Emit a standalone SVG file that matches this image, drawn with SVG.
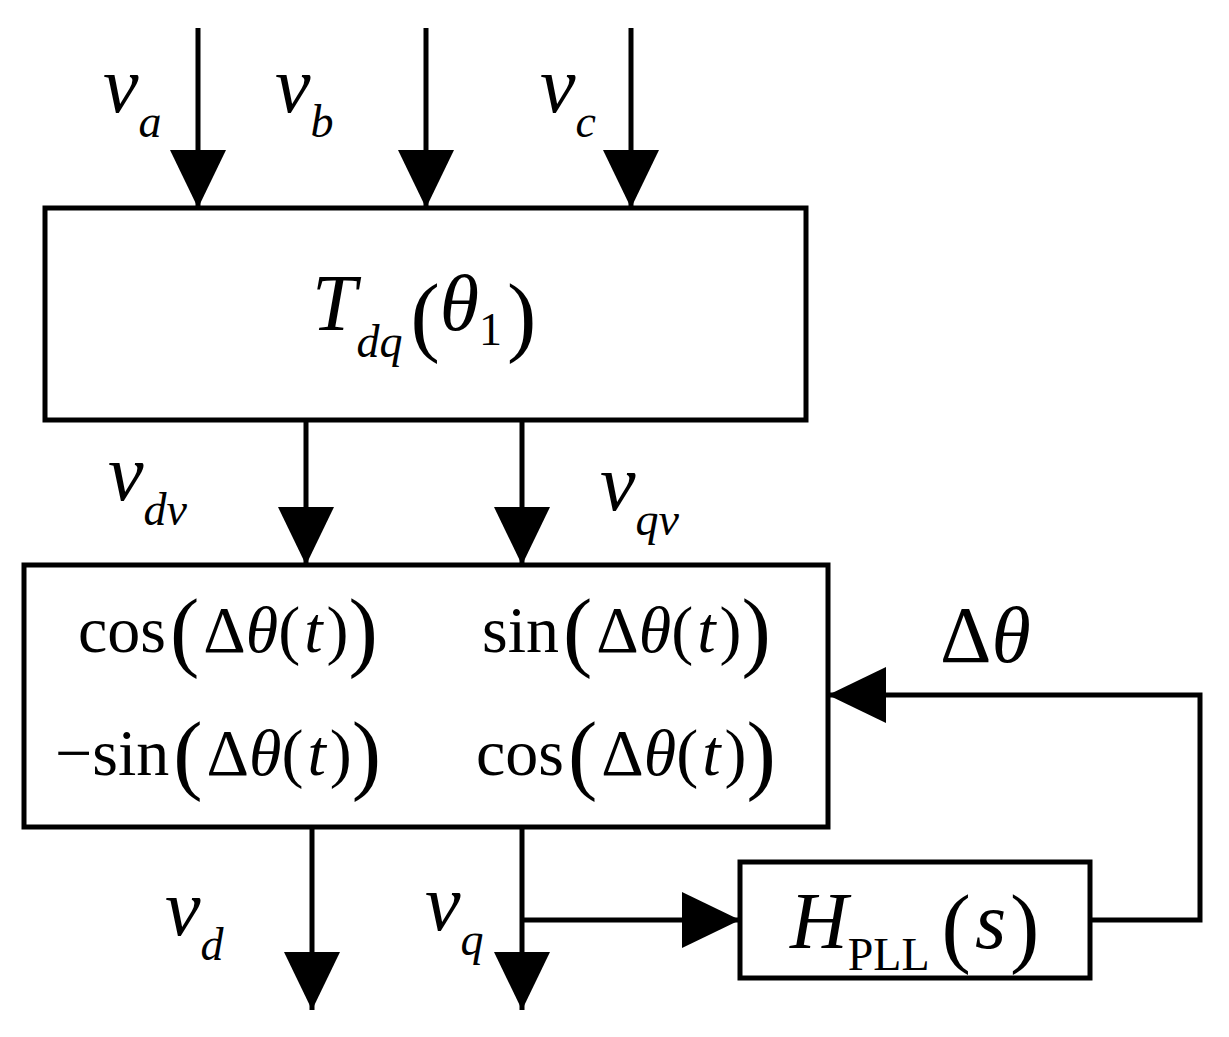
<svg xmlns="http://www.w3.org/2000/svg" width="1229" height="1037" viewBox="0 0 1229 1037">
<style>
.l{stroke:#000;stroke-width:5;fill:none}
.b{stroke:#000;stroke-width:5;fill:#fff}
text{font-family:"Liberation Serif",serif;fill:#000}
.i{font-style:italic}
.v{font-size:80px}
.s{font-size:46px}
.m{font-size:66px}
.p{font-size:88px}
</style>
<defs><marker id="a" markerUnits="userSpaceOnUse" markerWidth="60" markerHeight="60" refX="58" refY="28" orient="auto"><path d="M0,0 L58,28 L0,56 Z" fill="#000"/></marker></defs>
<rect width="1229" height="1037" fill="#fff"/>
<g id="connectors">
<line class="l" x1="198" y1="28" x2="198" y2="208" marker-end="url(#a)"/>
<line class="l" x1="426" y1="28" x2="426" y2="208" marker-end="url(#a)"/>
<line class="l" x1="631" y1="28" x2="631" y2="208" marker-end="url(#a)"/>
<line class="l" x1="306" y1="420" x2="306" y2="565" marker-end="url(#a)"/>
<line class="l" x1="522" y1="420" x2="522" y2="565" marker-end="url(#a)"/>
<line class="l" x1="312" y1="827" x2="312" y2="1010" marker-end="url(#a)"/>
<line class="l" x1="522" y1="827" x2="522" y2="1010" marker-end="url(#a)"/>
<line class="l" x1="522" y1="920" x2="740" y2="920" marker-end="url(#a)"/>
<polyline class="l" points="1090,920 1200,920 1200,695 828,695" marker-end="url(#a)"/>
</g>
<g id="labels">
<text class="i v" x="103" y="112">v<tspan class="s" dy="25">a</tspan></text>
<text class="i v" x="275" y="112">v<tspan class="s" dy="25">b</tspan></text>
<text class="i v" x="540" y="112">v<tspan class="s" dy="25">c</tspan></text>
<text class="i v" x="108" y="500">v<tspan class="s" dy="25">dv</tspan></text>
<text class="i v" x="600" y="510">v<tspan class="s" dy="25">qv</tspan></text>
<text class="i v" x="165" y="935">v<tspan class="s" dy="25">d</tspan></text>
<text class="i v" x="425" y="930">v<tspan class="s" dy="25">q</tspan></text>
<text class="v" x="940" y="662">Δ<tspan class="i">θ</tspan></text>
</g>
<g id="tdq">
<rect class="b" x="45" y="208" width="761" height="212"/>
<text class="v" x="312" y="330"><tspan class="i">T</tspan><tspan class="s i" dy="27">dq</tspan><tspan class="p" dy="-12" dx="8">(</tspan><tspan class="i" dy="-15">θ</tspan><tspan class="s" dy="15">1</tspan><tspan class="p" dy="0" dx="5">)</tspan></text>
</g>
<g id="rot">
<rect class="b" x="24" y="565" width="804" height="262"/>
<text class="m" x="78" y="652">cos<tspan class="p" dy="8" dx="4">(</tspan><tspan dy="-8" dx="4">Δ</tspan><tspan class="i">θ</tspan>(<tspan class="i" dx="4">t</tspan><tspan dx="4">)</tspan><tspan class="p" dy="8">)</tspan></text>
<text class="m" x="482" y="652">sin<tspan class="p" dy="8" dx="4">(</tspan><tspan dy="-8" dx="4">Δ</tspan><tspan class="i">θ</tspan>(<tspan class="i" dx="4">t</tspan><tspan dx="4">)</tspan><tspan class="p" dy="8">)</tspan></text>
<text class="m" x="55" y="775">−sin<tspan class="p" dy="8" dx="4">(</tspan><tspan dy="-8" dx="4">Δ</tspan><tspan class="i">θ</tspan>(<tspan class="i" dx="4">t</tspan><tspan dx="4">)</tspan><tspan class="p" dy="8">)</tspan></text>
<text class="m" x="476" y="775">cos<tspan class="p" dy="8" dx="4">(</tspan><tspan dy="-8" dx="4">Δ</tspan><tspan class="i">θ</tspan>(<tspan class="i" dx="4">t</tspan><tspan dx="4">)</tspan><tspan class="p" dy="8">)</tspan></text>
</g>
<g id="hpll">
<rect class="b" x="740" y="862" width="350" height="116"/>
<text class="v" x="790" y="948"><tspan class="i">H</tspan><tspan class="s" dy="22">PLL</tspan><tspan class="p" dy="-14" dx="12">(</tspan><tspan class="i" dy="-8" dx="4">s</tspan><tspan class="p" dy="8" dx="4">)</tspan></text>
</g>
</svg>
